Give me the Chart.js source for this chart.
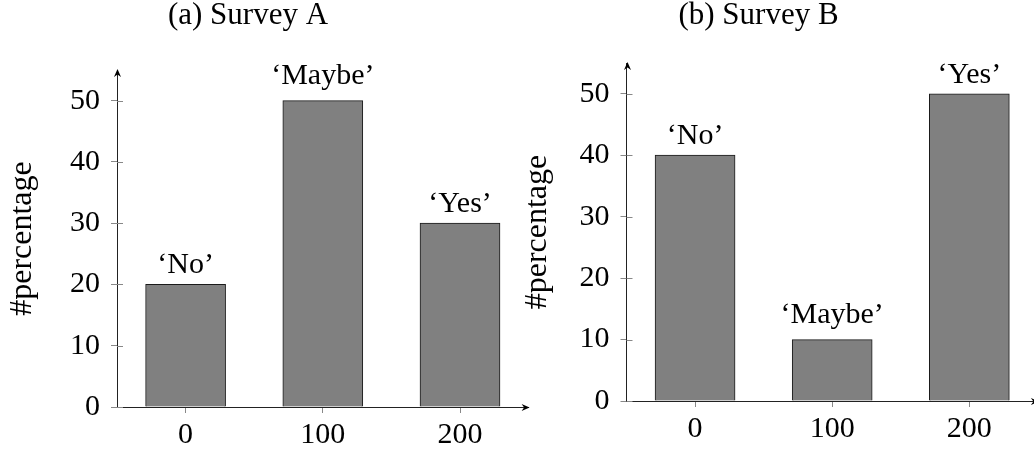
<!DOCTYPE html>
<html>
<head>
<meta charset="utf-8">
<script src="https://cdn.jsdelivr.net/npm/chart.js@4/dist/chart.umd.min.js"></script>
<style>
  html, body { margin: 0; padding: 0; background: #fff; overflow: hidden; width: 1034px; height: 452px; }
  .panel { position: absolute; top: 0; height: 452px; }
  #panel-a { left: 0; width: 545px; }
  #panel-b { left: 515px; width: 535px; }
</style>
</head>
<body>
<div class="panel" id="panel-a"><canvas id="chart-a"></canvas></div>
<div class="panel" id="panel-b"><canvas id="chart-b"></canvas></div>
<script>
// data
const answers = ['‘No’', '‘Maybe’', '‘Yes’'];
const positions = [0, 100, 200];
const surveyA = [20, 50, 30];
const surveyB = [40, 10, 50];
const xTicks = [0, 100, 200];
const yTicks = [0, 10, 20, 30, 40, 50];

const FONT = "'Liberation Serif', 'Times New Roman', serif";

// caption above each subplot
const caption = {
  id: 'caption',
  afterDraw(chart, args, opts) {
    const ctx = chart.ctx;
    ctx.save();
    ctx.font = `31px ${FONT}`;
    ctx.fillStyle = '#000';
    ctx.textAlign = 'center';
    ctx.textBaseline = 'alphabetic';
    ctx.fillText(opts.text, opts.x, opts.y);
    ctx.restore();
  }
};

// inner half of the y ticks (pgfplots draws them on both sides)
const innerTicks = {
  id: 'innerTicks',
  beforeDatasetsDraw(chart) {
    const { ctx, chartArea: a, scales: { y } } = chart;
    ctx.save();
    ctx.strokeStyle = '#888';
    ctx.lineWidth = 1;
    y.ticks.forEach(t => {
      const py = Math.round(y.getPixelForValue(t.value)) + 0.5;
      ctx.beginPath();
      ctx.moveTo(a.left, py);
      ctx.lineTo(a.left + 6, py);
      ctx.stroke();
    });
    ctx.restore();
  }
};

// text over the bars
const barLabels = {
  id: 'barLabels',
  afterDatasetsDraw(chart) {
    const ctx = chart.ctx;
    ctx.save();
    ctx.font = `30px ${FONT}`;
    ctx.fillStyle = '#000';
    ctx.textAlign = 'center';
    ctx.textBaseline = 'alphabetic';
    chart.getDatasetMeta(0).data.forEach((bar, i) => {
      const m = ctx.measureText(answers[i]);
      const desc = Math.max(0, m.actualBoundingBoxDescent);
      ctx.fillText(answers[i], bar.x, bar.y - 11 - desc);
    });
    ctx.restore();
  }
};

// arrow heads at the end of both axes
const axisArrows = {
  id: 'axisArrows',
  afterDraw(chart) {
    const { ctx, chartArea: a } = chart;
    const bx = a.right + 1, by = Math.round(a.bottom) + 0.5;
    const lx = Math.round(a.left) + 0.5, ly = a.top - 1;
    ctx.save();
    ctx.fillStyle = '#000';
    ctx.beginPath();
    ctx.moveTo(bx, by);
    ctx.lineTo(bx - 8, by - 3.5);
    ctx.lineTo(bx - 5.5, by);
    ctx.lineTo(bx - 8, by + 3.5);
    ctx.closePath();
    ctx.fill();
    ctx.beginPath();
    ctx.moveTo(lx, ly);
    ctx.lineTo(lx - 3.5, ly + 8);
    ctx.lineTo(lx, ly + 5.5);
    ctx.lineTo(lx + 3.5, ly + 8);
    ctx.closePath();
    ctx.fill();
    ctx.restore();
  }
};

function makeChart(id, title, values, g) {
  const ctx = document.getElementById(id).getContext('2d');
  return new Chart(ctx, {
    type: 'bar',
    data: {
      datasets: [{
        data: positions.map((x, i) => ({ x, y: values[i] })),
        backgroundColor: '#808080',
        borderColor: '#1a1a1a',
        borderWidth: 1,
        barThickness: 80
      }]
    },
    options: {
      responsive: true,
      maintainAspectRatio: false,
      animation: false,
      devicePixelRatio: 1,
      layout: { padding: { top: g.top, right: g.padRight, left: 0, bottom: 0 } },
      plugins: {
        legend: { display: false },
        tooltip: { enabled: false },
        caption: { text: title, x: g.titleX, y: 24 }
      },
      scales: {
        x: {
          type: 'linear', min: -50, max: 250, offset: false, z: 1,
          afterBuildTicks: s => { s.ticks = xTicks.map(v => ({ value: v })); },
          afterFit: s => { s.height = g.xHeight; },
          ticks: { font: { family: FONT, size: 30 }, color: '#000', padding: 4, maxRotation: 0 },
          grid: { drawOnChartArea: false, offset: false, tickLength: 6, tickColor: '#888' },
          border: { display: true, color: '#222', width: 1 }
        },
        y: {
          min: 0, max: 55, z: 1,
          afterBuildTicks: s => { s.ticks = yTicks.map(v => ({ value: v })); },
          afterFit: s => { s.width = g.yWidth; },
          ticks: { font: { family: FONT, size: 30 }, color: '#000', padding: 11 },
          grid: { drawOnChartArea: false, tickLength: 6, tickColor: '#888' },
          border: { display: true, color: '#222', width: 1 },
          title: { display: true, text: '#percentage', font: { family: FONT, size: 32 }, color: '#000', padding: { top: 3, bottom: 0 } }
        }
      }
    },
    plugins: [caption, innerTicks, barLabels, axisArrows]
  });
}

makeChart('chart-a', '(a) Survey A', surveyA, { top: 70, yWidth: 117, xHeight: 45, padRight: 16.4, titleX: 248 });
makeChart('chart-b', '(b) Survey B', surveyB, { top: 63, yWidth: 111.5, xHeight: 51, padRight: 12.1, titleX: 243.5 });
</script>
</body>
</html>
